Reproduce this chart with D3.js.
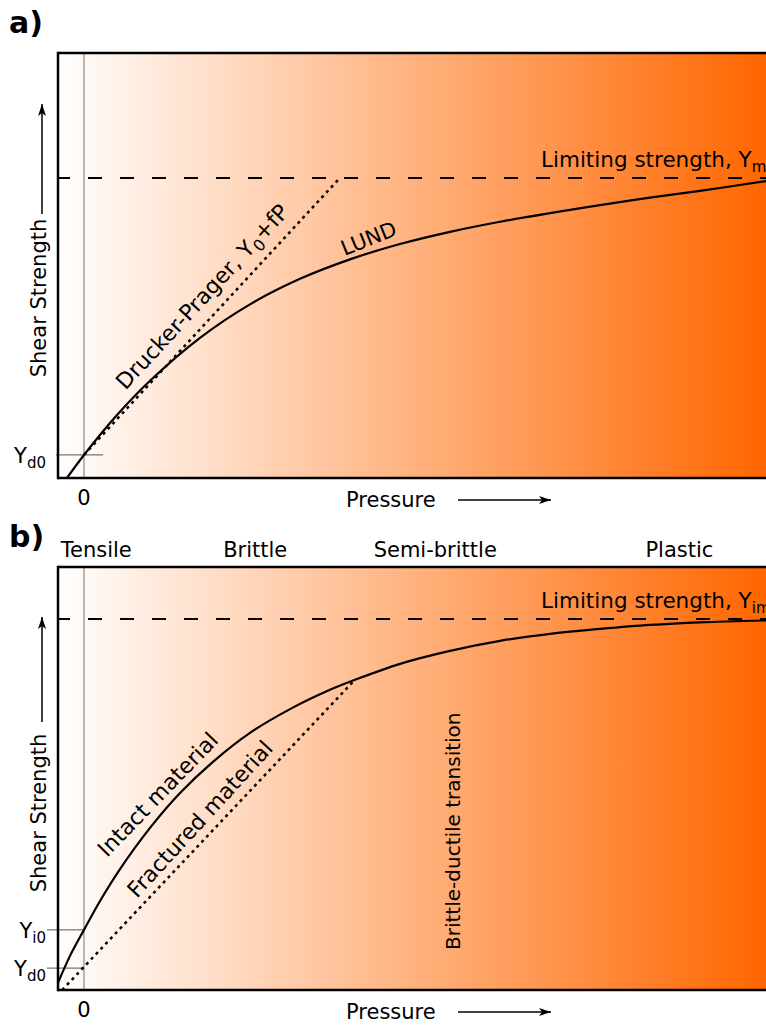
<!DOCTYPE html>
<html>
<head>
<meta charset="utf-8">
<script src="https://cdn.jsdelivr.net/npm/d3@7"></script>
<style>
  html, body { margin: 0; padding: 0; background: #fff; }
  svg { display: block; }
  text { font-family: "DejaVu Sans", sans-serif; fill: #000; }
</style>
</head>
<body>
<script>
// ---------------- DATA ----------------
// Panel a)
const lundPressure = [-0.25, 0, 0.484, 0.968, 1.701, 2.434, 3.167, 3.900, 4.633, 5.367, 6.100, 6.877, 7.566, 8.299, 9.032, 10.0];
const lundStrength = [0, 0.767, 2.097, 3.240, 4.673, 5.790, 6.640, 7.290, 7.800, 8.207, 8.543, 8.847, 9.100, 9.347, 9.573, 9.900];
const dpPressure = [0, 3.75];
const dpStrength = [0.77, 10];
const limitA = 10;
const ytickValuesA = [0.77];
const ytickSubsA = ["d0"];

// Panel b)
const intactPressure = [-0.396, -0.205, 0, 0.235, 0.528, 0.968, 1.408, 1.891, 2.434, 3.021, 3.607, 3.974, 4.633, 5.367, 6.100, 6.833, 7.566, 8.299, 9.032, 10.0];
const intactStrength = [0.13, 0.92, 1.62, 2.40, 3.26, 4.37, 5.31, 6.15, 6.93, 7.57, 8.09, 8.36, 8.79, 9.14, 9.41, 9.60, 9.73, 9.84, 9.91, 9.96];
const fracturedPressure = [-0.32, 3.94];
const fracturedStrength = [0, 8.30];
const limitB = 10;
const ytickValuesB = [1.62, 0.59];
const ytickSubsB = ["i0", "d0"];
const phaseLabels = ["Tensile", "Brittle", "Semi-brittle", "Plastic"];
const phasePressure = [0.18, 2.51, 5.15, 8.73];
const transitionPressure = 5.41;

const xTickValues = [0];
const xTickLabels = ["0"];

// ---------------- CHART ----------------
const W = 766, H = 1025;
const svg = d3.select("body").append("svg").attr("width", W).attr("height", H);
const defs = svg.append("defs");

const grad = defs.append("linearGradient").attr("id", "bg")
  .attr("gradientUnits", "userSpaceOnUse").attr("x1", 58).attr("x2", 766).attr("y1", 0).attr("y2", 0);
grad.append("stop").attr("offset", 0).attr("stop-color", "#ffffff");
grad.append("stop").attr("offset", 1).attr("stop-color", "#ff6600");

defs.append("marker").attr("id", "arrow").attr("markerUnits", "userSpaceOnUse")
  .attr("markerWidth", 14).attr("markerHeight", 10).attr("refX", 12).attr("refY", 4)
  .attr("orient", "auto")
  .append("path").attr("d", "M0,0 L12,4 L0,8 L3,4 Z").attr("fill", "#000");

const x = d3.scaleLinear().domain([0, 10]).range([84, 766]);
const left = 58, right = 770;

function panel(cfg) {
  const g = svg.append("g");
  const y = d3.scaleLinear().domain([0, cfg.ymax]).range([cfg.bottom, cfg.top]);
  const clipId = "clip" + cfg.id;
  defs.append("clipPath").attr("id", clipId).append("rect")
    .attr("x", left).attr("y", cfg.top).attr("width", right - left).attr("height", cfg.bottom - cfg.top);

  g.append("rect").attr("x", left).attr("y", cfg.top).attr("width", right - left)
    .attr("height", cfg.bottom - cfg.top).attr("fill", "url(#bg)");

  // zero line
  g.selectAll(".zl").data(xTickValues).join("line")
    .attr("x1", d => x(d)).attr("x2", d => x(d)).attr("y1", cfg.top).attr("y2", cfg.bottom)
    .attr("stroke", "#a0a0a0").attr("stroke-width", 1.5);

  // y ticks
  g.selectAll(".yt").data(cfg.ytickValues).join("line")
    .attr("x1", cfg.tickX1).attr("x2", cfg.tickX2).attr("y1", d => y(d)).attr("y2", d => y(d))
    .attr("stroke", "#555").attr("stroke-width", 1);
  cfg.ytickValues.forEach((v, i) => {
    const t = g.append("text").attr("x", 46).attr("y", y(v) + 8).attr("text-anchor", "end")
      .style("font-size", "21px");
    t.append("tspan").text("Y");
    t.append("tspan").attr("dy", 5).style("font-size", "15px").text(cfg.ytickSubs[i]);
  });

  const plot = g.append("g").attr("clip-path", `url(#${clipId})`);
  // limiting strength
  plot.append("line").attr("x1", 56).attr("x2", right).attr("y1", y(cfg.limit)).attr("y2", y(cfg.limit))
    .attr("stroke", "#000").attr("stroke-width", 2).attr("stroke-dasharray", "14,18");

  const line = d3.line().x(d => x(d[0])).y(d => y(d[1]));
  const lineC = d3.line().x(d => x(d[0])).y(d => y(d[1])).curve(d3.curveCatmullRom.alpha(0.5));
  plot.append("path").datum(d3.zip(cfg.dashP, cfg.dashS)).attr("d", line)
    .attr("fill", "none").attr("stroke", "#000").attr("stroke-width", 2.5).attr("stroke-dasharray", "3,4");
  plot.append("path").datum(d3.zip(cfg.curveP, cfg.curveS)).attr("d", lineC)
    .attr("fill", "none").attr("stroke", "#000").attr("stroke-width", 2.2);

  // borders
  g.append("line").attr("x1", left).attr("x2", right).attr("y1", cfg.top).attr("y2", cfg.top)
    .attr("stroke", "#000").attr("stroke-width", 2.5);
  g.append("line").attr("x1", left).attr("x2", right).attr("y1", cfg.bottom).attr("y2", cfg.bottom)
    .attr("stroke", "#000").attr("stroke-width", 2.5);
  g.append("line").attr("x1", left).attr("x2", left).attr("y1", cfg.top - 1.25).attr("y2", cfg.bottom + 1.25)
    .attr("stroke", "#000").attr("stroke-width", 2.5);

  // x tick label
  g.selectAll(".xtl").data(xTickValues).join("text")
    .attr("x", d => x(d)).attr("y", cfg.bottom + 27).attr("text-anchor", "middle")
    .style("font-size", "21px").text((d, i) => xTickLabels[i]);

  // axis titles
  g.append("text").attr("x", 346).attr("y", cfg.bottom + 29).style("font-size", "21px").text("Pressure");
  g.append("line").attr("x1", 458).attr("x2", 551).attr("y1", cfg.bottom + 22).attr("y2", cfg.bottom + 22)
    .attr("stroke", "#000").attr("stroke-width", 1.5).attr("marker-end", "url(#arrow)");

  g.append("text").attr("transform", `translate(46,${cfg.yTitleY}) rotate(-90)`)
    .attr("text-anchor", "middle").style("font-size", "21px").text("Shear Strength");
  g.append("line").attr("x1", 42).attr("x2", 42).attr("y1", cfg.arrowY1).attr("y2", cfg.arrowY2)
    .attr("stroke", "#000").attr("stroke-width", 1.5).attr("marker-end", "url(#arrow)");

  // limit label
  const lt = g.append("text").attr("x", 541).attr("y", y(cfg.limit) - 11).style("font-size", "21.5px");
  lt.append("tspan").text("Limiting strength, Y");
  lt.append("tspan").attr("dy", 5).style("font-size", "15px").text(cfg.limitSub);

  // panel letter
  svg.append("text").attr("x", 9).attr("y", cfg.top - 20).style("font-size", "30px")
    .style("font-weight", "bold").text(cfg.letter);
  return { g, y };
}

// Panel a
const A = panel({
  id: "a", letter: "a)", top: 53, bottom: 478, ymax: 14.17,
  ytickValues: ytickValuesA, ytickSubs: ytickSubsA, tickX1: 56, tickX2: 103,
  limit: limitA, limitSub: "m",
  dashP: dpPressure, dashS: dpStrength, curveP: lundPressure, curveS: lundStrength,
  yTitleY: 298, arrowY1: 214, arrowY2: 104
});

// DP label
{
  const px = x(dpPressure[0]), py = A.y(dpStrength[0]);
  const qx = x(dpPressure[1]), qy = A.y(dpStrength[1]);
  const ang = Math.atan2(qy - py, qx - px);
  const t = 0.20;
  const bx = px + (qx - px) * t + Math.sin(ang) * 13;
  const by = py + (qy - py) * t - Math.cos(ang) * 13;
  const tx = A.g.append("text").attr("transform", `translate(${bx},${by}) rotate(${ang * 180 / Math.PI})`)
    .style("font-size", "22px");
  tx.append("tspan").text("Drucker-Prager, Y");
  tx.append("tspan").attr("dy", 5).style("font-size", "16px").text("0");
  tx.append("tspan").attr("dy", -5).text("+fP");
}
A.g.append("text").attr("transform", `translate(${x(3.82)},${A.y(7.2) - 6}) rotate(-22)`)
  .style("font-size", "21px").text("LUND");

// Panel b
const B = panel({
  id: "b", letter: "b)", top: 567, bottom: 990, ymax: 11.4,
  ytickValues: ytickValuesB, ytickSubs: ytickSubsB, tickX1: 47, tickX2: 84,
  limit: limitB, limitSub: "im",
  dashP: fracturedPressure, dashS: fracturedStrength, curveP: intactPressure, curveS: intactStrength,
  yTitleY: 813, arrowY1: 722, arrowY2: 617
});

B.g.selectAll(".phase").data(phaseLabels).join("text")
  .attr("x", (d, i) => x(phasePressure[i])).attr("y", 557).attr("text-anchor", "middle")
  .style("font-size", "21px").text(d => d);

B.g.append("text").attr("transform", `translate(${x(transitionPressure) + 7},950) rotate(-90)`)
  .style("font-size", "20px").text("Brittle-ductile transition");

B.g.append("text").attr("transform", `translate(107,858) rotate(-46)`)
  .style("font-size", "22px").text("Intact material");
B.g.append("text").attr("transform", `translate(137,899) rotate(-47.5)`)
  .style("font-size", "22px").text("Fractured material");
</script>
</body>
</html>
